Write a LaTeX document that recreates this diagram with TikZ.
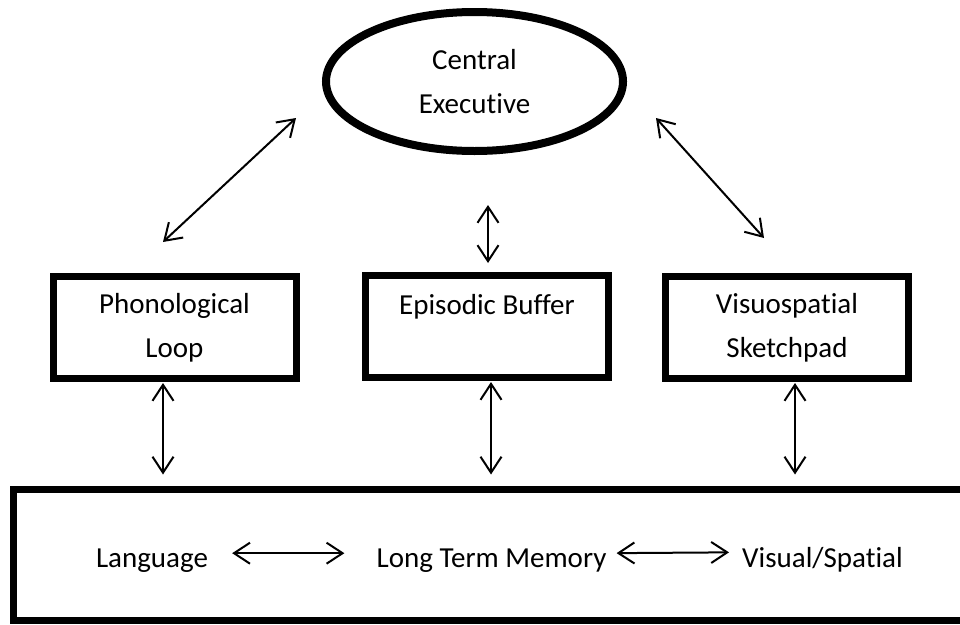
\documentclass[tikz,border=0pt]{standalone}
\usepackage{fontspec}
\setmainfont[Ligatures={NoCommon,NoContextual}]{Carlito}
\usetikzlibrary{positioning,arrows.meta,shapes.geometric}

\begin{document}
\begin{tikzpicture}[
    x=1pt, y=-1pt,
    font=\fontsize{29}{44}\selectfont,
    exec/.style={ellipse, draw, line width=8pt, minimum width=297pt, minimum height=139pt, align=center},
    store/.style={rectangle, draw, line width=7pt, minimum width=243pt, minimum height=102pt, align=center},
    term/.style={inner sep=2pt, anchor=base},
    dual/.style={{Straight Barb[length=16pt,width=21pt]}-{Straight Barb[length=16pt,width=21pt]}, line width=2pt}
]
\path[use as bounding box, clip] (0,0) rectangle (960,624);

\node[exec] (ce) at (474.5,81.5) {Central\\Executive};
\node[store] (phon) at (174.5,327.5) {Phonological\\Loop};
\node[store] (epi) at (487,326.5) {Episodic Buffer\\\mbox{}};
\node[store] (vis) at (787,327.5) {Visuospatial\\Sketchpad};
\node[draw, line width=7pt, minimum width=962pt, minimum height=131pt] (ltm) at (494.5,554.5) {};

\node[term] (lang) at (152,567) {Language};
\node[term] (mem) at (491.5,567) {Long Term Memory};
\node[term] (vsp) at (822.5,567) {Visual/Spatial};

% central executive to the three stores
\draw[dual] ([shift={(-26,36.5)}]ce.west) -- ([shift={(-11.5,-31)}]phon.north);
\draw[dual, shorten <=50pt, shorten >=9pt] ([xshift=1pt]epi.north |- ce.south) -- ([xshift=1pt]epi.north);
\draw[dual] ([shift={(29,36.5)}]ce.east) -- ([shift={(-23,-35)}]vis.north);

% stores to long term memory
\draw[dual, shorten <=1pt, shorten >=11pt] ([xshift=-11.5pt]phon.south) -- ([xshift=-11.5pt]phon.south |- ltm.north);
\draw[dual, shorten <=1pt, shorten >=11pt] ([xshift=4pt]epi.south) -- ([xshift=4pt]epi.south |- ltm.north);
\draw[dual, shorten <=1pt, shorten >=11pt] ([xshift=8pt]vis.south) -- ([xshift=8pt]vis.south |- ltm.north);

% inside long term memory
\draw[dual, shorten <=22pt, shorten >=30pt] ([yshift=7pt]lang.east) -- ([yshift=7pt]mem.west);
\draw[dual, shorten <=8pt, shorten >=11pt] ([yshift=7pt]mem.east) -- ([yshift=7pt]vsp.west);
\end{tikzpicture}
\end{document}
